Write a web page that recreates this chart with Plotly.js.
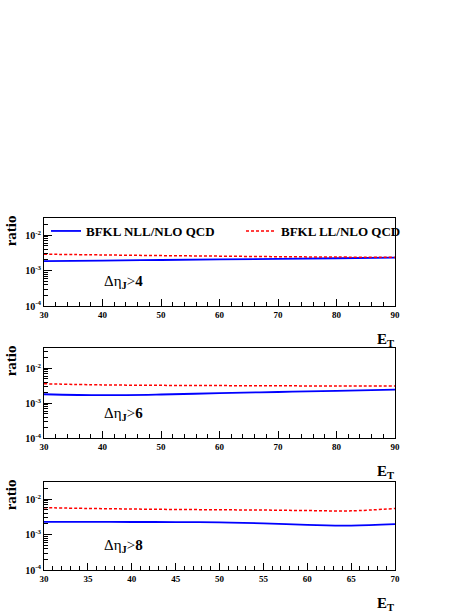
<!DOCTYPE html>
<html>
<head>
<meta charset="utf-8">
<script src="https://cdn.plot.ly/plotly-3.0.1.min.js"></script>
<style>
  html, body { margin: 0; padding: 0; background: #fff; }
  #chart { width: 474px; height: 614px; }
</style>
</head>
<body>
<div id="chart"></div>
<script>
// E_T values (x axis) for the panels
const etWide = [30, 40, 50, 60, 70, 80, 90];
const etNarrow = [30, 35, 40, 45, 50, 55, 60, 65, 70];

// ratio values
const nllEta4 = [1.85e-3, 1.92e-3, 2.00e-3, 2.08e-3, 2.16e-3, 2.24e-3, 2.32e-3];
const llEta4 = [2.92e-3, 2.78e-3, 2.66e-3, 2.57e-3, 2.48e-3, 2.42e-3, 2.37e-3];

const nllEta6 = [1.81e-3, 1.70e-3, 1.78e-3, 1.95e-3, 2.10e-3, 2.26e-3, 2.45e-3];
const llEta6 = [3.60e-3, 3.35e-3, 3.25e-3, 3.20e-3, 3.15e-3, 3.13e-3, 3.10e-3];

const nllEta8 = [2.29e-3, 2.29e-3, 2.28e-3, 2.27e-3, 2.22e-3, 2.08e-3, 1.90e-3, 1.80e-3, 1.97e-3];
const llEta8 = [5.80e-3, 5.50e-3, 5.30e-3, 5.15e-3, 5.05e-3, 4.95e-3, 4.80e-3, 4.70e-3, 5.50e-3];

const cutLabels = ['4', '6', '8'];
const seriesNames = ['BFKL NLL/NLO QCD', 'BFKL LL/NLO QCD'];
const yTickVals = [1e-4, 1e-3, 1e-2];
const yTickText = ['10<sup>-4</sup>', '10<sup>-3</sup>', '10<sup>-2</sup>'];

const serif = 'Liberation Serif, Times New Roman, serif';
const W = 474, H = 614;

// panel frames in pixels (top, bottom) and y range top (log10)
const panels = [
    { top: 218.3, bottom: 306, yTop: -1.52, xMax: 90, dtick: 10, minor: 2 },
    { top: 348.3, bottom: 438.3, yTop: -1.43, xMax: 90, dtick: 10, minor: 2 },
    { top: 482.3, bottom: 570, yTop: -1.52, xMax: 70, dtick: 5, minor: 1 }
];

// log minor ticks 2..9 for each decade
const minorVals = [];
[1e-4, 1e-3, 1e-2].forEach(d => {
    for (let k = 2; k <= 9; k++) minorVals.push(k * d);
});

const xTickFont = { family: serif, size: 9, weight: 'bold', color: '#000' };
const yTickFont = { family: serif, size: 10, weight: 'bold', color: '#000' };

const blueLine = { color: '#0000ff', width: 1.8, shape: 'spline' };
const redLine = { color: '#ff0000', width: 1.5, dash: '3px,2px', shape: 'spline' };

const data = [
    { x: etWide, y: nllEta4, name: seriesNames[0], xaxis: 'x', yaxis: 'y', line: blueLine },
    { x: etWide, y: llEta4, name: seriesNames[1], xaxis: 'x', yaxis: 'y', line: redLine },
    { x: etWide, y: nllEta6, xaxis: 'x2', yaxis: 'y2', line: blueLine, showlegend: false },
    { x: etWide, y: llEta6, xaxis: 'x2', yaxis: 'y2', line: redLine, showlegend: false },
    { x: etNarrow, y: nllEta8, xaxis: 'x3', yaxis: 'y3', line: blueLine, showlegend: false },
    { x: etNarrow, y: llEta8, xaxis: 'x3', yaxis: 'y3', line: redLine, showlegend: false }
].map(t => Object.assign({ type: 'scatter', mode: 'lines', hoverinfo: 'skip' }, t));

const layout = {
    width: W,
    height: H,
    margin: { l: 0, r: 0, t: 0, b: 0 },
    paper_bgcolor: '#fff',
    plot_bgcolor: '#fff',
    font: { family: serif, color: '#000' },
    showlegend: true,
    legend: {
        orientation: 'h',
        x: 46 / W,
        xanchor: 'left',
        y: 1 - 231 / H,
        yanchor: 'middle',
        bgcolor: 'rgba(0,0,0,0)',
        font: { family: serif, size: 13, weight: 'bold', color: '#000' },
        entrywidth: 150,
        entrywidthmode: 'pixels',
        itemwidth: 30
    },
    annotations: []
};

panels.forEach((p, i) => {
    const n = i === 0 ? '' : String(i + 1);
    layout['xaxis' + n] = {
        domain: [44 / W, 395 / W],
        range: [30, p.xMax],
        anchor: 'y' + n,
        showline: true, mirror: true, linecolor: '#000', linewidth: 1,
        ticks: 'inside', ticklen: 7, tickcolor: '#000', tickwidth: 1,
        tick0: 30, dtick: p.dtick,
        minor: { ticks: 'inside', ticklen: 4, dtick: p.minor, tick0: 30, tickcolor: '#000' },
        showgrid: false, zeroline: false,
        tickfont: xTickFont,
        automargin: false,
        fixedrange: true
    };
    layout['yaxis' + n] = {
        type: 'log',
        domain: [1 - p.bottom / H, 1 - p.top / H],
        range: [-4, p.yTop],
        anchor: 'x' + n,
        showline: true, mirror: true, linecolor: '#000', linewidth: 1,
        ticks: 'inside', ticklen: 8, tickcolor: '#000',
        tickmode: 'array', tickvals: yTickVals, ticktext: yTickText,
        minor: { ticks: 'inside', ticklen: 4, tickmode: 'array', tickvals: minorVals, tickcolor: '#000' },
        showgrid: false, zeroline: false,
        tickfont: yTickFont,
        automargin: false,
        fixedrange: true
    };

    // y title
    layout.annotations.push({
        text: '<b>ratio</b>', textangle: -90,
        xref: 'paper', yref: 'paper',
        x: 11 / W, y: 1 - (p.top + 13) / H,
        xanchor: 'center', yanchor: 'middle',
        showarrow: false, font: { family: serif, size: 15, color: '#000' }
    });
    // x title
    layout.annotations.push({
        text: '<b>E<sub>T</sub></b>',
        xref: 'paper', yref: 'paper',
        x: 396 / W, y: 1 - (p.bottom + 34) / H,
        xanchor: 'right', yanchor: 'middle',
        showarrow: false, font: { family: serif, size: 15, color: '#000' }
    });
    // eta cut label
    layout.annotations.push({
        text: 'Δη<sub><b>J</b></sub>&gt;<b>' + cutLabels[i] + '</b>',
        xref: 'x' + n + ' domain', yref: 'y' + n + ' domain',
        x: 0.165, y: 0.27,
        xanchor: 'left', yanchor: 'middle',
        showarrow: false, font: { family: serif, size: 15, color: '#000' }
    });
});

Plotly.newPlot('chart', data, layout, { staticPlot: true, displayModeBar: false });
</script>
</body>
</html>
